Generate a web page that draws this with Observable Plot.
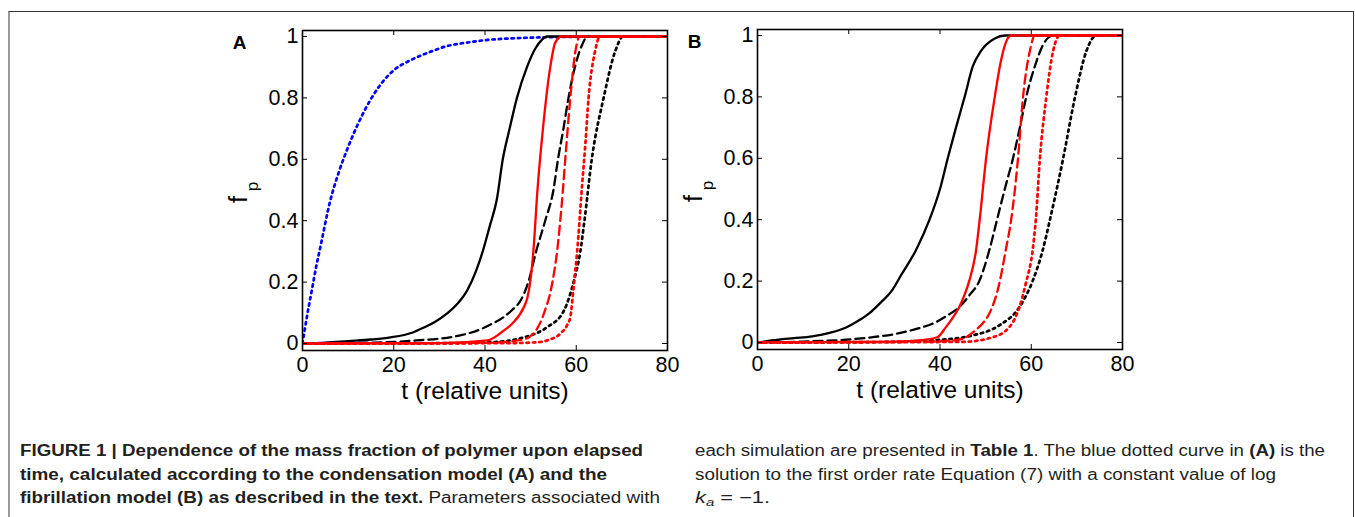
<!DOCTYPE html>
<html>
<head>
<meta charset="utf-8">
<script src="https://cdn.jsdelivr.net/npm/d3@7"></script>
<script src="https://cdn.jsdelivr.net/npm/@observablehq/plot@0.6"></script>
<style>
  html, body { margin: 0; padding: 0; background: #fff; }
  body { width: 1355px; height: 517px; overflow: hidden; position: relative; font-family: "Liberation Sans", Arial, sans-serif; }
  #box { position: absolute; left: 8px; top: 11px; width: 1346px; height: 530px; border-top: 1px solid #333; border-left: 2px solid #999; border-right: 1px solid #333; box-sizing: border-box; }
  .panel { position: absolute; }
  .cap { position: absolute; font-family: "Liberation Sans", Arial, sans-serif; font-size: 16px; line-height: 23.5px; color: #231f20; }
  .cap div { white-space: nowrap; transform-origin: 0 0; width: max-content; }
</style>
</head>
<body>
<div id="box"></div>
<div id="panelA" class="panel" style="left:200px; top:20px;"></div>
<div id="panelB" class="panel" style="left:655px; top:19px;"></div>
<div class="cap" style="left:20px; top:439px;">
  <div data-w="623"><b>FIGURE 1 | Dependence of the mass fraction of polymer upon elapsed</b></div>
  <div data-w="587"><b>time, calculated according to the condensation model (A) and the</b></div>
  <div data-w="640"><b>fibrillation model (B) as described in the text.</b> Parameters associated with</div>
</div>
<div class="cap" style="left:695px; top:439px;">
  <div data-w="630">each simulation are presented in <b>Table 1</b>. The blue dotted curve in <b>(A)</b> is the</div>
  <div data-w="581">solution to the first order rate Equation (7) with a constant value of log</div>
  <div data-w="75"><i>k<sub style="font-size:11px;vertical-align:-3px">a</sub></i> = −1.</div>
</div>
<script>
// ---------- tick values ----------
const xTicks = [0, 20, 40, 60, 80];
const yTicks = [0, 0.2, 0.4, 0.6, 0.8, 1];
const xLabel = "t (relative units)";
const yLabelMain = "f";
const yLabelSub = "p";

// ---------- Panel A (condensation model) ----------
const aBlueDotT = [0, 1, 2, 3, 4, 6, 8, 10, 12, 14, 16, 18, 20, 24, 28, 32, 36, 40, 46, 52, 60, 80];
const aBlueDotF = [0, 0.09, 0.17, 0.25, 0.32, 0.46, 0.56, 0.64, 0.71, 0.77, 0.82, 0.86, 0.89, 0.925, 0.95, 0.97, 0.98, 0.988, 0.994, 0.997, 0.999, 1];

const aBlackSolidT = [0, 5, 10, 15, 19.3, 24, 26.6, 29, 31.7, 34, 36.1, 38, 39.5, 41, 42.6, 43.9, 45.4, 47, 49.2, 51, 52.5, 53.5, 80];
const aBlackSolidF = [0, 0.003, 0.008, 0.013, 0.02, 0.035, 0.052, 0.07, 0.098, 0.13, 0.173, 0.235, 0.3, 0.38, 0.47, 0.6, 0.7, 0.8, 0.9, 0.96, 0.99, 1, 1];

const aBlackDashT = [0, 10, 20, 25, 30.2, 35, 38.3, 41, 44.1, 46, 47.8, 49.5, 51.2, 53.2, 55, 56, 57.2, 58.3, 59.7, 61.2, 62.5, 80];
const aBlackDashF = [0, 0.002, 0.005, 0.01, 0.016, 0.028, 0.042, 0.06, 0.086, 0.11, 0.14, 0.2, 0.3, 0.4, 0.5, 0.6, 0.7, 0.8, 0.9, 0.97, 1, 1];

const aRedSolidT = [0, 30, 40.5, 44.1, 46, 48.5, 49.3, 49.9, 50.6, 51.5, 52.7, 54.3, 55.4, 56.8, 80];
const aRedSolidF = [0, 0.001, 0.01, 0.042, 0.065, 0.118, 0.15, 0.2, 0.3, 0.5, 0.7, 0.9, 0.98, 1, 1];

const aRedDashT = [0, 40, 48, 50.6, 52.9, 54.7, 55.8, 56.8, 57.7, 58.7, 59.8, 60.8, 80];
const aRedDashF = [0, 0.002, 0.012, 0.032, 0.097, 0.194, 0.3, 0.45, 0.62, 0.8, 0.95, 1, 1];

const aRedDotT = [0, 45, 51.4, 54, 56.5, 58, 58.7, 59.5, 60.2, 61.2, 62, 62.7, 64.1, 65.2, 80];
const aRedDotF = [0, 0.001, 0.004, 0.012, 0.032, 0.06, 0.086, 0.195, 0.3, 0.5, 0.65, 0.8, 0.95, 1, 1];

const aBlackDotT = [0, 30, 41.2, 48.5, 53.6, 57.3, 59.5, 60.9, 61.8, 63.4, 66, 68.5, 70.3, 80];
const aBlackDotF = [0, 0.001, 0.004, 0.02, 0.053, 0.107, 0.205, 0.3, 0.4, 0.6, 0.8, 0.95, 1, 1];

// ---------- Panel B (fibrillation model) ----------
const bBlackSolidT = [0, 4.6, 8, 12, 16, 19.3, 22, 24.4, 27, 29.5, 31.5, 34.7, 37.7, 40, 41.7, 43.5, 45.4, 47.2, 49, 52, 54.2, 80];
const bBlackSolidF = [0, 0.009, 0.014, 0.02, 0.032, 0.048, 0.07, 0.094, 0.13, 0.17, 0.22, 0.3, 0.4, 0.5, 0.6, 0.7, 0.8, 0.9, 0.95, 0.99, 1, 1];

const bBlackDashT = [0, 10, 19.3, 25, 30.3, 35, 38.3, 41.5, 44.2, 46.5, 48.6, 50.8, 52.5, 54.2, 56, 57.5, 58.9, 60.8, 62.6, 64.8, 80];
const bBlackDashF = [0, 0.003, 0.009, 0.017, 0.028, 0.045, 0.061, 0.087, 0.115, 0.155, 0.2, 0.3, 0.4, 0.5, 0.6, 0.7, 0.8, 0.9, 0.97, 1, 1];

const bRedSolidT = [0, 30, 36, 39.4, 41.3, 43, 44.2, 45.5, 46.4, 47.9, 48.7, 50.1, 52, 53.4, 54.5, 55.6, 80];
const bRedSolidF = [0, 0.003, 0.008, 0.017, 0.05, 0.085, 0.115, 0.16, 0.2, 0.3, 0.4, 0.6, 0.8, 0.92, 0.98, 1, 1];

const bRedDashT = [0, 35, 42, 44.9, 47.8, 49.5, 50.8, 53, 54.4, 55.6, 57.1, 58.2, 59.7, 60.8, 80];
const bRedDashF = [0, 0.002, 0.006, 0.012, 0.04, 0.065, 0.094, 0.192, 0.3, 0.4, 0.6, 0.8, 0.95, 1, 1];

const bRedDotT = [0, 44.9, 51.5, 55.2, 57.4, 58.8, 60.3, 61, 61.9, 63.3, 64.8, 66.3, 80];
const bRedDotF = [0, 0.002, 0.017, 0.05, 0.115, 0.192, 0.3, 0.4, 0.6, 0.8, 0.95, 1, 1];

const bBlackDotT = [0, 30, 38.3, 47.1, 53, 57.4, 60.3, 62.5, 64.1, 67, 69.6, 72.1, 74.3, 80];
const bBlackDotF = [0, 0.002, 0.007, 0.023, 0.056, 0.115, 0.2, 0.3, 0.4, 0.6, 0.8, 0.95, 1, 1];

// ---------- styles ----------
const DASH = "9,5";
const DOT = "2.4,4";
const styles = {
  blackSolid: {stroke: "#000", dash: null, w: 2.3},
  blackDash: {stroke: "#000", dash: DASH, w: 2.3},
  blackDot: {stroke: "#000", dash: DOT, w: 2.7},
  redSolid: {stroke: "#ff0000", dash: null, w: 2.3},
  redDash: {stroke: "#ff0000", dash: DASH, w: 2.3},
  redDot: {stroke: "#ff0000", dash: DOT, w: 2.7},
  blueDot: {stroke: "#0000ff", dash: DOT, w: 2.7}
};

function table(t, f) { return t.map((d, i) => ({t: d, f: f[i]})); }

const seriesA = [
  ["blueDot", aBlueDotT, aBlueDotF],
  ["blackDot", aBlackDotT, aBlackDotF],
  ["blackDash", aBlackDashT, aBlackDashF],
  ["blackSolid", aBlackSolidT, aBlackSolidF],
  ["redDot", aRedDotT, aRedDotF],
  ["redDash", aRedDashT, aRedDashF],
  ["redSolid", aRedSolidT, aRedSolidF]
];
const seriesB = [
  ["blackDot", bBlackDotT, bBlackDotF],
  ["blackDash", bBlackDashT, bBlackDashF],
  ["blackSolid", bBlackSolidT, bBlackSolidF],
  ["redDot", bRedDotT, bRedDotF],
  ["redDash", bRedDashT, bRedDashF],
  ["redSolid", bRedSolidT, bRedSolidF]
];

const W = 480, H = 390, ML = 102, MR = 13, MT = 10, MB = 60;
const PW = W - ML - MR, PH = H - MT - MB;

function panel(letter, series) {
  const lineMarks = series.map(([k, t, f]) => Plot.line(table(t, f), {
    x: "t", y: "f", stroke: styles[k].stroke, strokeWidth: styles[k].w,
    strokeDasharray: styles[k].dash, curve: "monotone-x", clip: true
  }));
  return Plot.plot({
    width: W, height: H,
    marginLeft: ML, marginRight: MR, marginTop: MT, marginBottom: MB,
    x: {domain: [0, 80]},
    y: {domain: [-0.0228, 1.0195]},
    style: {fontFamily: "'Liberation Sans', Arial, sans-serif", background: "transparent", color: "#000", overflow: "visible"},
    marks: [
      ...lineMarks,
      Plot.tickY(yTicks, {y: d => d, insetRight: PW - 5, stroke: "#000", strokeWidth: 1}),
      Plot.tickY(yTicks, {y: d => d, insetLeft: PW - 5, stroke: "#000", strokeWidth: 1}),
      Plot.tickX(xTicks.slice(1, -1), {x: d => d, insetTop: PH - 5, stroke: "#000", strokeWidth: 1}),
      Plot.tickX(xTicks.slice(1, -1), {x: d => d, insetBottom: PH - 5, stroke: "#000", strokeWidth: 1}),
      Plot.frame({stroke: "#000", strokeWidth: 1.6}),
      Plot.axisX({ticks: xTicks, tickSize: 0, tickPadding: 6, fontSize: 21.5, label: null}),
      Plot.axisY({ticks: yTicks, tickSize: 0, tickPadding: 4, fontSize: 21.5, label: null,
                  tickFormat: d => String(+d.toFixed(1))}),
      Plot.text([xLabel], {text: d => d, frameAnchor: "bottom", dy: 41, fontSize: 24.5,
                           textAnchor: "middle", lineAnchor: "middle"}),
      Plot.text([yLabelMain], {text: d => d, frameAnchor: "left", dx: -64, dy: 9, rotate: -90,
                               fontSize: 25, textAnchor: "middle", lineAnchor: "middle"}),
      Plot.text([yLabelSub], {text: d => d, frameAnchor: "left", dx: -50, dy: -4, rotate: -90,
                              fontSize: 17, textAnchor: "middle", lineAnchor: "middle"}),
      Plot.text([letter], {text: d => d, frameAnchor: "top-left", dx: -63, dy: 12, fontSize: 19,
                           fontWeight: "bold", textAnchor: "middle", lineAnchor: "middle"})
    ]
  });
}

document.getElementById("panelA").append(panel("A", seriesA));
document.getElementById("panelB").append(panel("B", seriesB));

// fit caption lines to the measured widths of the reference
document.querySelectorAll(".cap div").forEach(el => {
  const target = +el.dataset.w;
  const actual = el.getBoundingClientRect().width;
  if (actual > 0) el.style.transform = `scaleX(${target / actual})`;
});
</script>
</body>
</html>
